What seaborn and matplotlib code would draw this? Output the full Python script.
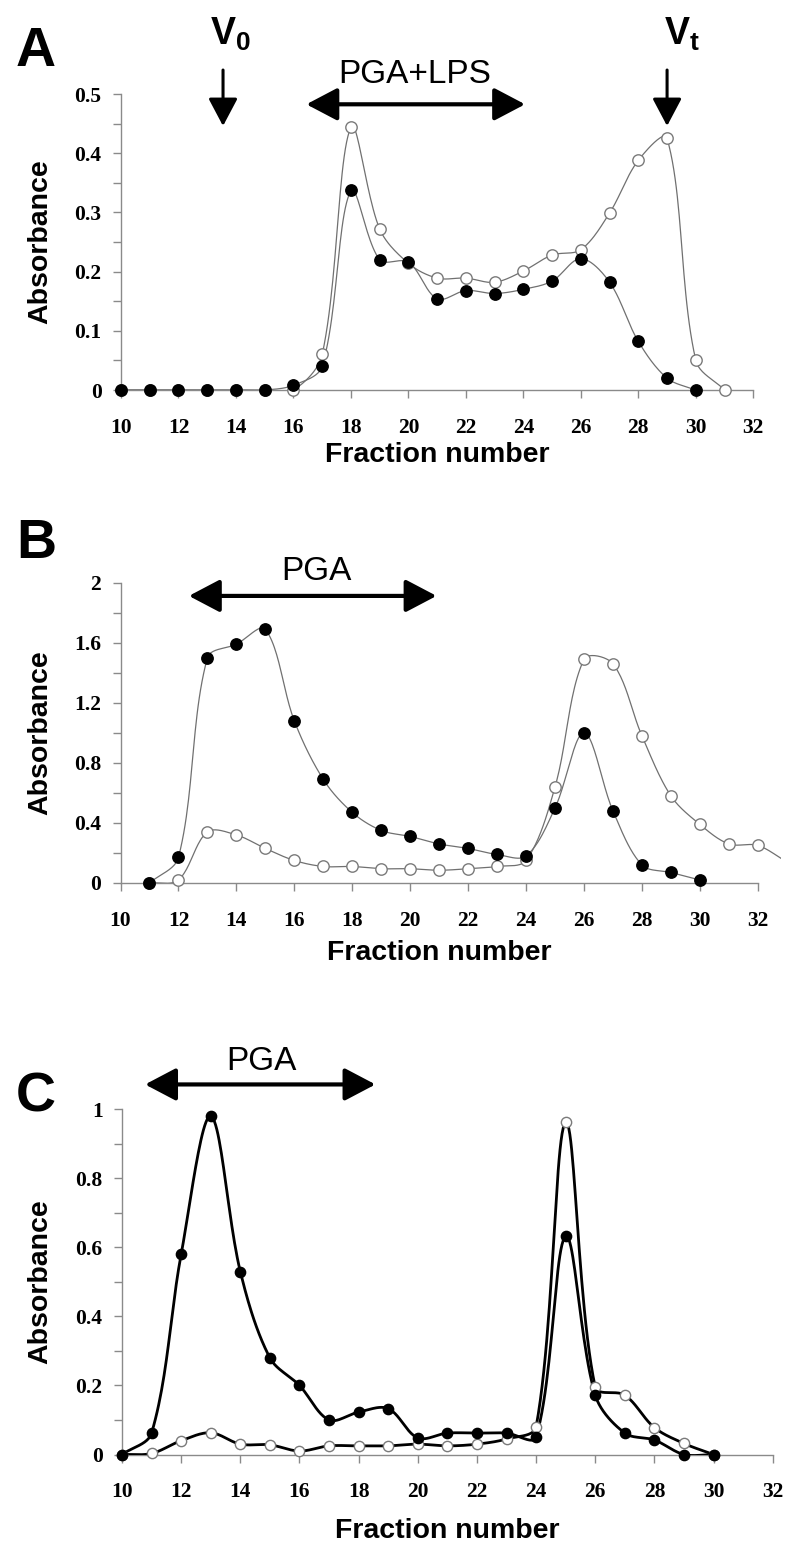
import numpy as np
import pandas as pd
import matplotlib
matplotlib.use("Agg")
import matplotlib.pyplot as plt
from matplotlib.ticker import MultipleLocator, FuncFormatter
import seaborn as sns

# panel A (PGA+LPS)
a_frac_filled = list(range(10, 31))
a_filled = [0, 0, 0, 0, 0, 0, 0.008, 0.04, 0.337, 0.22, 0.216, 0.154, 0.168, 0.163,
            0.17, 0.184, 0.222, 0.182, 0.082, 0.02, 0]
a_frac_open = list(range(10, 32))
a_open = [0, 0, 0, 0, 0, 0, 0, 0.06, 0.444, 0.272, 0.214, 0.189, 0.189, 0.182,
          0.201, 0.228, 0.237, 0.299, 0.388, 0.425, 0.05, 0]

# panel B (PGA)
b_frac_filled = list(range(11, 31))
b_filled = [0, 0.17, 1.5, 1.59, 1.69, 1.08, 0.69, 0.47, 0.35, 0.31, 0.26, 0.23,
            0.19, 0.18, 0.5, 1.0, 0.48, 0.12, 0.07, 0.02]
b_frac_open = list(range(11, 34))
b_open = [0, 0.02, 0.34, 0.32, 0.23, 0.15, 0.11, 0.11, 0.095, 0.095, 0.085, 0.095,
          0.11, 0.15, 0.64, 1.49, 1.46, 0.98, 0.58, 0.39, 0.26, 0.25, 0.14]

# panel C (PGA)
c_frac_filled = list(range(10, 31))
c_filled = [0, 0.062, 0.58, 0.98, 0.53, 0.28, 0.2, 0.1, 0.123, 0.133, 0.048, 0.062,
            0.062, 0.062, 0.05, 0.632, 0.172, 0.062, 0.042, 0, 0]
c_frac_open = list(range(10, 31))
c_open = [0, 0.003, 0.04, 0.063, 0.03, 0.028, 0.01, 0.025, 0.025, 0.025, 0.03, 0.025,
          0.03, 0.045, 0.08, 0.962, 0.195, 0.172, 0.078, 0.032, 0]


def smooth(x, y, sx, sy, n=24):
    # excel-style smoothed line: bezier segments, control arms scaled by
    # neighbouring segment lengths (measured on screen, sx/sy = px per unit)
    P = np.c_[np.asarray(x, float) * sx, np.asarray(y, float) * sy]
    P = np.vstack([P[0], P, P[-1]])
    t = np.linspace(0, 1, n, endpoint=False)[:, None]
    out = []
    for i in range(1, len(P) - 2):
        p0, p1, p2, p3 = P[i - 1], P[i], P[i + 1], P[i + 2]
        d01, d12, d23 = (np.hypot(*(p1 - p0)), np.hypot(*(p2 - p1)),
                         np.hypot(*(p3 - p2)))
        f1 = d12 / (d01 + d12) if d01 + d12 > 0 else 0.5
        f2 = d12 / (d12 + d23) if d12 + d23 > 0 else 0.5
        c1 = p1 + (p2 - p0) * f1 / 3
        c2 = p2 - (p3 - p1) * f2 / 3
        out.append((1 - t) ** 3 * p1 + 3 * (1 - t) ** 2 * t * c1
                   + 3 * (1 - t) * t ** 2 * c2 + t ** 3 * p2)
    out.append(P[-2][None, :])
    pts = np.vstack(out)
    return pd.DataFrame({"x": pts[:, 0] / sx, "y": pts[:, 1] / sy})


sns.set_style("white")
plt.rcParams["font.family"] = ["Liberation Sans", "DejaVu Sans"]
plt.rcParams["mathtext.fontset"] = "custom"
plt.rcParams["mathtext.bf"] = "Liberation Sans:bold"
plt.rcParams["mathtext.rm"] = "Liberation Sans"
plt.rcParams["text.color"] = "black"
plt.rcParams["axes.labelcolor"] = "black"
plt.rcParams["xtick.color"] = "black"
plt.rcParams["ytick.color"] = "black"

W, H = 800, 1556
fig = plt.figure(figsize=(W / 100, H / 100), dpi=100)

def px_axes(l, r, b, t):
    return fig.add_axes([l / W, 1 - b / H, (r - l) / W, (b - t) / H])

axA = px_axes(121, 753.3, 390, 94)
axB = px_axes(120.5, 781, 883, 582.7)
axC = px_axes(122, 772.7, 1454.5, 1109.3)

grey_axis = "#8a8a8a"

panels = [
    (axA, a_frac_filled, a_filled, a_frac_open, a_open, 0.5, 0.1, 0.05, "#707070", 0.9, 8.2, 28.74, 592),
    (axB, b_frac_filled, b_filled, b_frac_open, b_open, 2, 0.4, 0.2, "#707070", 0.9, 8.2, 28.97, 150),
    (axC, c_frac_filled, c_filled, c_frac_open, c_open, 1, 0.2, 0.1, "black", 2.0, 7.4, 29.58, 345),
]

for ax, xf, yf, xo, yo, ymax, major, minor, lc, lw, ms, sx, sy in panels:
    for xx, yy, face, edge in ((xo, yo, "white", "#7a7a7a"), (xf, yf, "black", "black")):
        curve = smooth(xx, yy, sx, sy)
        sns.lineplot(data=curve, x="x", y="y", ax=ax, color=lc, lw=lw,
                     estimator=None, sort=False, zorder=3)
        pts = pd.DataFrame({"x": xx, "y": yy})
        pts = pts[pts["x"] <= 32]
        sns.scatterplot(data=pts, x="x", y="y", ax=ax, color=face, edgecolor=edge,
                        linewidth=1.0, s=ms ** 2, zorder=4, clip_on=False)

    ax.set_ylim(0, ymax)
    ax.yaxis.set_major_locator(MultipleLocator(major))
    ax.yaxis.set_minor_locator(MultipleLocator(minor))
    ax.yaxis.set_major_formatter(FuncFormatter(lambda v, p: "%g" % round(v, 3)))
    ax.set_xticks(range(10, 33, 2))
    for s in ("top", "right"):
        ax.spines[s].set_visible(False)
    for s in ("left", "bottom"):
        ax.spines[s].set_color(grey_axis)
        ax.spines[s].set_linewidth(1.0)
    ax.spines["bottom"].set_bounds(10, 32)
    ax.tick_params(axis="both", which="both", direction="out", color=grey_axis,
                   labelcolor="black", width=1.0, length=6, left=True, bottom=True)
    ax.tick_params(axis="x", pad=14)
    ax.tick_params(axis="y", pad=8)
    for lab in ax.get_xticklabels() + ax.get_yticklabels():
        lab.set_fontfamily("Liberation Serif")
        lab.set_fontweight("bold")
        lab.set_fontsize(15.5)
    ax.set_xlabel("Fraction number", fontsize=20.5, fontweight="bold", va="center")
    ax.set_ylabel("Absorbance", fontsize=20.5, fontweight="bold", va="center")

axA.set_xlim(10, 32)
axB.set_xlim(10, 32.8)
axC.set_xlim(10, 32)

axA.xaxis.set_label_coords(0.5, -65 / 296)
axB.xaxis.set_label_coords(22 / 22.8 * 0.5, -70 / 300)
axC.xaxis.set_label_coords(0.5, -76 / 345)
axA.yaxis.set_label_coords(-81 / 632, 0.5)
axB.yaxis.set_label_coords(-80.5 / 660.5, 0.5)
axC.yaxis.set_label_coords(-82 / 650.7, 0.5)

def arrow(ax, x0, y0, x1, y1, style, lw):
    ax.annotate("", xy=(x1, y1), xytext=(x0, y0), annotation_clip=False,
                arrowprops=dict(arrowstyle=style, color="black", lw=lw,
                                shrinkA=0, shrinkB=0, mutation_scale=20))

down = "-|>,head_length=0.85,head_width=0.45"
both = "<|-|>,head_length=0.95,head_width=0.5"

# panel A annotations
arrow(axA, 13.55, 0.5405, 13.55, 0.446, down, 2.2)
arrow(axA, 29.0, 0.5405, 29.0, 0.446, down, 2.2)
axA.text(13.8, 0.583, r"$\mathbf{V_0}$", fontsize=27, ha="center", va="baseline")
axA.text(29.5, 0.583, r"$\mathbf{V_t}$", fontsize=27, ha="center", va="baseline")
arrow(axA, 16.45, 0.4826, 24.06, 0.4826, both, 3)
axA.text(20.21, 0.5186, "PGA+LPS", fontsize=24, ha="center", va="baseline")

# panel B
arrow(axB, 12.36, 1.912, 20.91, 1.912, both, 3)
axB.text(16.75, 2.018, "PGA", fontsize=24, ha="center", va="baseline")

# panel C
arrow(axC, 10.78, 1.072, 18.57, 1.072, both, 3)
axC.text(14.70, 1.114, "PGA", fontsize=24, ha="center", va="baseline")

for letter, base in (("A", 66), ("B", 558), ("C", 1112)):
    fig.text(16 / W, 1 - base / H, letter, fontsize=40, fontweight="bold",
             ha="left", va="baseline")

fig.savefig("out.png", dpi=100)
